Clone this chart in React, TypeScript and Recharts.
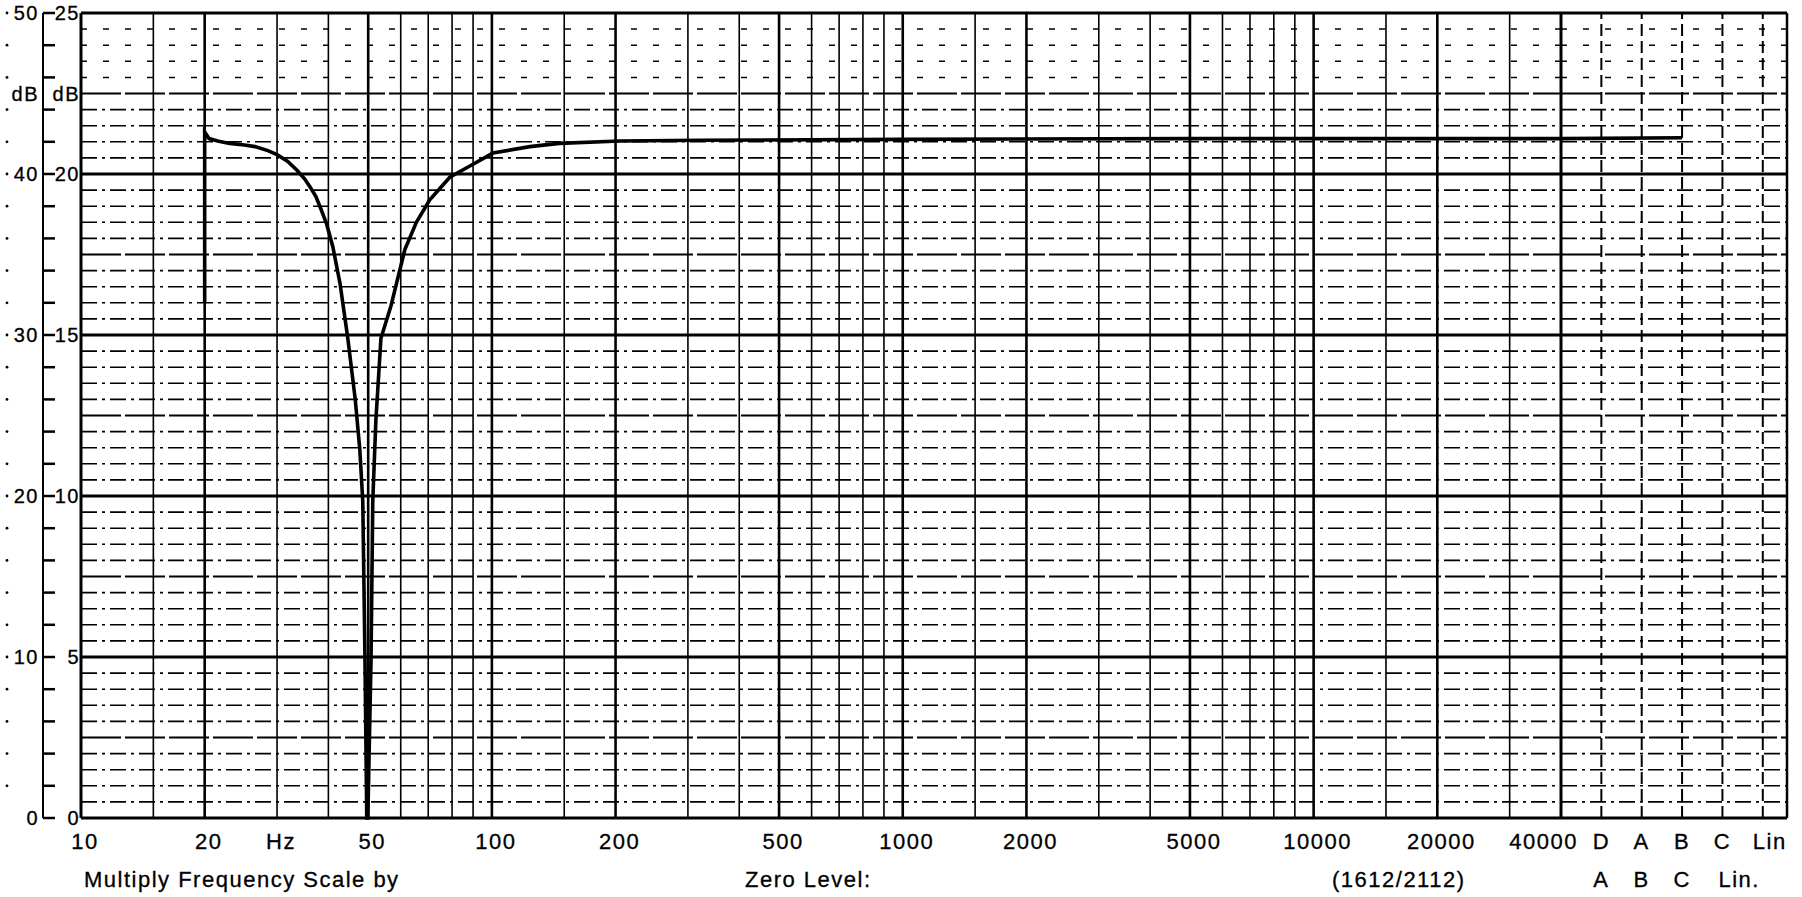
import React from 'react'
import { LineChart, Line, XAxis, YAxis, ReferenceLine } from 'recharts'

// recorded trace (frequency in Hz, level on the 50 dB scale)
const traceFreq = [
  20, 20, 20.5, 21.5, 23, 25, 26.5, 28.5, 30, 31.8, 33.5, 35, 36.1, 37.3, 38.2, 39.6, 41, 42.7, 44.6,
  46.5, 47.7, 48.5, 49.1, 49.6, 49.9, 50.8, 51.3, 52.2, 53.7, 56.8, 61.4, 65.5, 70.6, 79, 88.4, 100.6,
  123.7, 146, 205, 320, 1000, 5000, 40000,
]
const traceLevel = [
  32.0, 42.6, 42.2, 42.05, 41.9, 41.8, 41.7, 41.45, 41.2, 40.8, 40.25, 39.7, 39.2, 38.6, 37.95, 36.9, 35.5,
  33.2, 29.8, 26.0, 22.9, 19.7, 10.0, 0, 0, 9.8, 19.7, 24.7, 29.8, 31.8, 35.3, 37.0, 38.4, 39.8, 40.5,
  41.3, 41.7, 41.9, 42.05, 42.1, 42.15, 42.2, 42.2,
]

// pen keeps running into the weighting columns
const weightTracePos = [0, 3.0]
const weightTraceLevel = [42.2, 42.25]

const freqTicks = [10, 20, 30, 50, 100, 200, 500, 1000, 2000, 5000, 10000, 20000, 40000]
const freqTickLabels = ['10', '20', 'Hz', '50', '100', '200', '500', '1000', '2000', '5000', '10000', '20000', '40000']

const gridFreqs = [
  10, 15, 20, 30, 40, 50, 60, 70, 80, 90,
  100, 150, 200, 300, 400, 500, 600, 700, 800, 900,
  1000, 1500, 2000, 3000, 4000, 5000, 6000, 7000, 8000, 9000,
  10000, 15000, 20000, 30000, 40000,
]
const heavyFreqs = [10, 20, 50, 100, 200, 500, 1000, 2000, 5000, 10000, 20000, 40000]

const weightPos = [1, 2, 3, 4, 5]
const weightNames = ['D', 'A', 'B', 'C', 'Lin']
const weightNamesLower = ['A', 'B', 'C', 'Lin.', '']

const leftTicks = [0, 2, 4, 6, 8, 10, 12, 14, 16, 18, 20, 22, 24, 26, 28, 30, 32, 34, 36, 38, 40, 42, 44, 45, 46, 48, 50]
const leftLabels: Record<number, [string, string]> = {
  0: ['0', '0'],
  10: ['10', '5'],
  20: ['20', '10'],
  30: ['30', '15'],
  40: ['40', '20'],
  45: ['dB', 'dB'],
  50: ['50', '25'],
}

const dbLines = Array.from({ length: 51 }, (_, i) => i)

const W = 1802
const H = 897
const PLOT_LEFT = 81
const PLOT_TOP = 13
const PLOT_BOTTOM = 818
const MAIN_RIGHT = 1561
const FRAME_RIGHT = 1787
const SCALE_X = 43
const FONT = 'Liberation Sans, Arial, Helvetica, sans-serif'

const mainData = traceFreq.map((f, i) => ({ f, db: traceLevel[i] }))
const weightData = weightTracePos.map((w, i) => ({ w, db: weightTraceLevel[i] }))

function hLineStyle(v: number) {
  if (v % 10 === 0) return { strokeWidth: 3, strokeDasharray: undefined }
  if (v % 5 === 0) return { strokeWidth: 2, strokeDasharray: '40 4' }
  if (v > 45) return { strokeWidth: 1.5, strokeDasharray: '6 16' }
  return { strokeWidth: 1.6, strokeDasharray: '16 5 3 5' }
}

function horizontalLines() {
  return dbLines.map((v) => {
    const s = hLineStyle(v)
    return (
      <ReferenceLine
        key={'h' + v}
        y={v}
        stroke="#000"
        strokeWidth={s.strokeWidth}
        strokeDasharray={s.strokeDasharray}
      />
    )
  })
}

function LeftTick(props: any) {
  const { y, payload } = props
  const v = payload.value
  const lab = leftLabels[v]
  return (
    <g>
      {v === 0 && (
        <line x1={SCALE_X} x2={SCALE_X} y1={y} y2={PLOT_TOP} stroke="#000" strokeWidth={2} />
      )}
      {v !== 45 && <line x1={SCALE_X} x2={55} y1={y} y2={y} stroke="#000" strokeWidth={2.5} />}
      {v % 2 === 0 && v !== 0 && <circle cx={7} cy={y} r={1.4} fill="#000" />}
      {lab && (
        <>
          <text x={39} y={y} dy="0.36em" textAnchor="end" fontFamily={FONT} fontSize={20} letterSpacing={1.5} fill="#000" stroke="#000" strokeWidth={0.3}>
            {lab[0]}
          </text>
          <text x={80} y={y} dy="0.36em" textAnchor="end" fontFamily={FONT} fontSize={20} letterSpacing={1.5} fill="#000" stroke="#000" strokeWidth={0.3}>
            {lab[1]}
          </text>
        </>
      )}
    </g>
  )
}

function FreqTick(props: any) {
  const { x, payload } = props
  const idx = freqTicks.indexOf(payload.value)
  const last = idx === freqTicks.length - 1
  return (
    <text
      x={last ? x + 17 : x + 4}
      y={PLOT_BOTTOM + 31}
      textAnchor={last ? 'end' : 'middle'}
      fontFamily={FONT}
      fontSize={22}
      letterSpacing={1.5}
      fill="#000"
      stroke="#000"
      strokeWidth={0.3}
    >
      {freqTickLabels[idx]}
    </text>
  )
}

function WeightTick(props: any) {
  const { x, payload } = props
  const idx = weightPos.indexOf(payload.value)
  const lower = weightNamesLower[idx]
  return (
    <g fontFamily={FONT} fontSize={22} letterSpacing={1.5} fill="#000" stroke="#000" strokeWidth={0.3}>
      <text x={idx === 4 ? x - 10 : x} y={PLOT_BOTTOM + 31} textAnchor={idx === 4 ? 'start' : 'middle'}>
        {weightNames[idx]}
      </text>
      {lower && (
        <text x={idx === 3 ? x - 4 : x} y={PLOT_BOTTOM + 69} textAnchor={idx === 3 ? 'start' : 'middle'}>
          {lower}
        </text>
      )}
    </g>
  )
}

export default function App() {
  return (
    <div style={{ position: 'absolute', left: 0, top: 0, width: W, height: H, overflow: 'hidden', background: '#fff' }}>
      <style>{'.recharts-surface{overflow:visible}'}</style>
      <div style={{ position: 'absolute', left: 0, top: 0 }}>
        <LineChart width={MAIN_RIGHT} height={H} data={mainData} margin={{ top: PLOT_TOP, right: 0, bottom: 0, left: 0 }}>
          <XAxis
            dataKey="f"
            type="number"
            scale="log"
            domain={[10, 40000]}
            ticks={freqTicks}
            interval={0}
            height={H - PLOT_BOTTOM}
            axisLine={false}
            tickLine={false}
            tick={<FreqTick />}
          />
          <YAxis
            type="number"
            domain={[0, 50]}
            ticks={leftTicks}
            interval={0}
            width={PLOT_LEFT}
            axisLine={false}
            tickLine={false}
            tick={<LeftTick />}
          />
          {horizontalLines()}
          {gridFreqs.map((f) => (
            <ReferenceLine
              key={'v' + f}
              x={f}
              stroke="#000"
              strokeWidth={f === 10 || f === 40000 ? 3 : heavyFreqs.includes(f) ? 2.6 : 1.6}
            />
          ))}
          <Line
            type="linear"
            dataKey="db"
            stroke="#000"
            strokeWidth={3.6}
            dot={false}
            isAnimationActive={false}
          />
        </LineChart>
      </div>
      <div style={{ position: 'absolute', left: MAIN_RIGHT, top: 0 }}>
        <LineChart
          width={W - MAIN_RIGHT}
          height={H}
          data={weightData}
          margin={{ top: PLOT_TOP, right: W - FRAME_RIGHT, bottom: 0, left: 0 }}
        >
          <XAxis
            dataKey="w"
            type="number"
            domain={[0, 5.6]}
            ticks={weightPos}
            interval={0}
            height={H - PLOT_BOTTOM}
            axisLine={false}
            tickLine={false}
            tick={<WeightTick />}
          />
          <YAxis type="number" domain={[0, 50]} hide />
          {horizontalLines()}
          {weightPos.map((p) => (
            <ReferenceLine key={'w' + p} x={p} stroke="#000" strokeWidth={2} strokeDasharray="12 5" />
          ))}
          <ReferenceLine x={5.6} stroke="#000" strokeWidth={2.5} />
          <Line
            type="linear"
            dataKey="db"
            stroke="#000"
            strokeWidth={3.6}
            dot={false}
            isAnimationActive={false}
          />
        </LineChart>
      </div>
      <svg width={W} height={H} style={{ position: 'absolute', left: 0, top: 0, pointerEvents: 'none' }}>
        <g fontFamily={FONT} fontSize={22} letterSpacing={1.5} fill="#000" stroke="#000" strokeWidth={0.3}>
          <text x={84} y={PLOT_BOTTOM + 69}>Multiply Frequency Scale by</text>
          <text x={745} y={PLOT_BOTTOM + 69}>Zero Level:</text>
          <text x={1332} y={PLOT_BOTTOM + 69}>(1612/2112)</text>
        </g>
      </svg>
    </div>
  )
}
